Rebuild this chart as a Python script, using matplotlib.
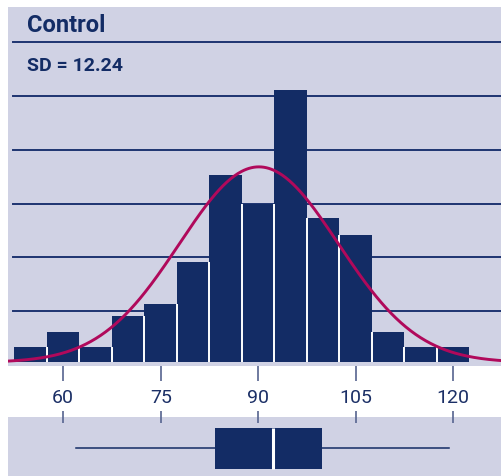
import numpy as np
import matplotlib
matplotlib.use('Agg')
import matplotlib.pyplot as plt

# Данные гистограммы (центры интервалов по 5 единиц и высоты столбцов)
bin_centers = [55, 60, 65, 70, 75, 80, 85, 90, 95, 100, 105, 110, 115, 120]
bar_heights = [1, 2, 1, 3, 3.8, 6.5, 12.2, 10.3, 17.7, 9.4, 8.3, 2, 1, 1]
bin_width = 5

# Нормальная кривая
curve_mean = 90.1
curve_sd = 12.24
curve_peak = 12.7

# Ящик с усами
box_q1, box_median, box_q3 = 83.4, 92.3, 99.8
whisker_low, whisker_high = 62, 119.3

x_ticks = [60, 75, 90, 105, 120]
title = 'Control'
sd_label = 'SD = 12.24'

navy = '#132C65'
panel_bg = '#D0D2E4'
curve_color = '#B0095B'
tick_color = '#56648F'

plt.rcParams['font.family'] = ['Roboto', 'DejaVu Sans']

fig = plt.figure(figsize=(5.01, 4.77), dpi=100)
W, H = 501, 477

# Верхняя панель: гистограмма
ax = fig.add_axes([8 / W, (H - 367) / H, 493 / W, 359 / H])
ax.set_facecolor(panel_bg)
ax.set_xlim(51.5, 127.35)
ax.set_ylim(-0.23, 23.08)

grid_step = 3.49
for k in range(1, 7):
    ax.axhline(k * grid_step - 0.15, xmin=5 / 493, xmax=1, color='#1E3470',
               lw=1.4, zorder=1)

ax.bar(bin_centers, bar_heights, width=bin_width, color=navy, zorder=2)
edges = np.array(bin_centers[1:]) - bin_width / 2
ax.vlines(edges, 0, np.minimum(bar_heights[:-1], bar_heights[1:]),
          color='white', lw=1.4, zorder=3)

xs = np.linspace(51.5, 127.35, 400)
ys = curve_peak * np.exp(-0.5 * ((xs - curve_mean) / curve_sd) ** 2)
ax.plot(xs, ys, color=curve_color, lw=2.1, zorder=4)

ax.set_xticks(x_ticks)
ax.set_xticklabels([str(t) for t in x_ticks])
ax.set_yticks([])
ax.tick_params(axis='x', direction='out', length=11, width=1.2, color=tick_color,
               labelsize=14, labelcolor='#1B2F66', pad=5)
for s in ax.spines.values():
    s.set_visible(False)

fig.text(27 / W, 1 - 25 / H, title, fontsize=17, fontweight='bold', color=navy,
         va='center', ha='left')
fig.text(27 / W, 1 - 66 / H, sd_label, fontsize=14, fontweight='bold', color=navy,
         va='center', ha='left')

# Нижняя панель: ящик с усами
ax2 = fig.add_axes([8 / W, 0, 493 / W, 59 / H])
ax2.set_facecolor(panel_bg)
ax2.set_xlim(51.5, 127.35)
ax2.set_ylim(0, 1)
stats = [{'med': box_median, 'q1': box_q1, 'q3': box_q3,
          'whislo': whisker_low, 'whishi': whisker_high, 'fliers': []}]
ax2.bxp(stats, positions=[0.47], widths=0.69, vert=False, patch_artist=True,
        showcaps=False, showfliers=False,
        boxprops=dict(facecolor=navy, edgecolor=navy, lw=0),
        medianprops=dict(color='white', lw=2.2),
        whiskerprops=dict(color=navy, lw=1.1))
ax2.set_ylim(0, 1)
ax2.set_xticks(x_ticks)
ax2.set_xticklabels([])
ax2.set_yticks([])
ax2.tick_params(axis='x', bottom=False, top=True, direction='inout', length=9,
                width=1.2, color=tick_color)
for s in ax2.spines.values():
    s.set_visible(False)

fig.savefig('out.png', dpi=100, facecolor='white')
